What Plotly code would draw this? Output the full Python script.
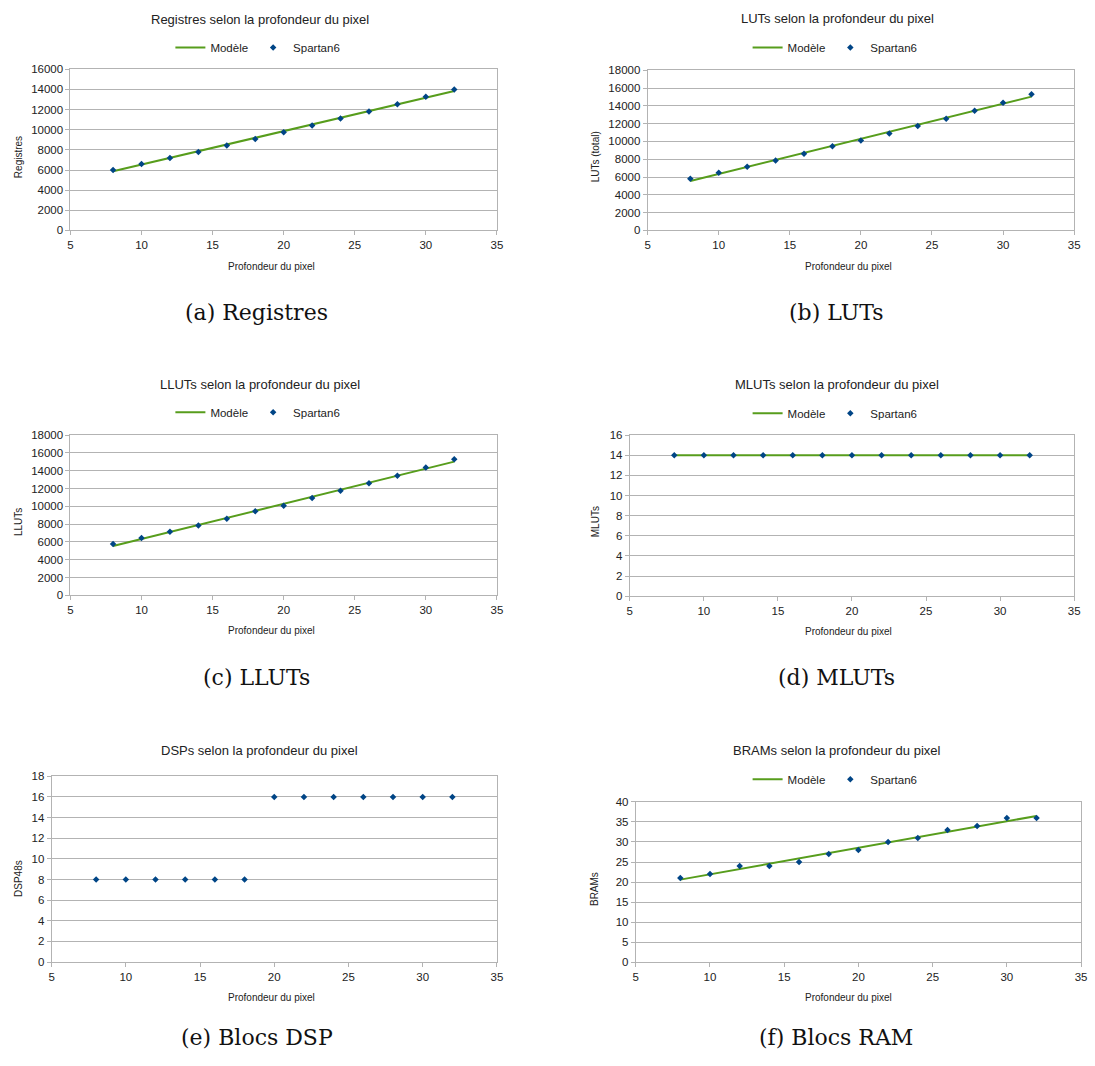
import plotly.graph_objects as go

W, H = 1095, 1066

depth = [8, 10, 12, 14, 16, 18, 20, 22, 24, 26, 28, 30, 32]
model_x = [8, 32]

reg_vals = [6000, 6590, 7180, 7800, 8430, 9080, 9740, 10430, 11110, 11800, 12520, 13280, 14000]
reg_model = [5880, 13840]

lut_vals = [5800, 6470, 7170, 7870, 8610, 9460, 10110, 10900, 11750, 12560, 13450, 14340, 15300]
lut_model = [5560, 15040]

llut_vals = [5760, 6440, 7150, 7850, 8590, 9440, 10070, 10930, 11740, 12590, 13440, 14370, 15300]
llut_model = [5540, 15020]

mlut_vals = [14, 14, 14, 14, 14, 14, 14, 14, 14, 14, 14, 14, 14]
mlut_model = [14, 14]

dsp_vals = [8, 8, 8, 8, 8, 8, 16, 16, 16, 16, 16, 16, 16]

bram_vals = [21, 22, 24, 24, 25, 27, 28, 30, 31, 33, 34, 36, 36]
bram_model = [20.6, 36.5]

titles = ["Registres selon la profondeur du pixel", "LUTs selon la profondeur du pixel",
          "LLUTs selon la profondeur du pixel", "MLUTs selon la profondeur du pixel",
          "DSPs selon la profondeur du pixel", "BRAMs selon la profondeur du pixel"]
ytitles = ["Registres", "LUTs (total)", "LLUTs", "MLUTs", "DSP48s", "BRAMs"]
xtitle = "Profondeur du pixel"
captions = ["(a) Registres", "(b) LUTs", "(c) LLUTs", "(d) MLUTs", "(e) Blocs DSP", "(f) Blocs RAM"]
y_ranges = [(16000, 2000), (18000, 2000), (18000, 2000), (16, 2), (18, 2), (40, 5)]
x_ticks = [5, 10, 15, 20, 25, 30, 35]

# layout geometry (pixels)
plots = [  # left, right, top, bottom
    (68, 498, 64, 227), (650, 1080, 65, 227),
    (68, 498, 434, 596), (632, 1080, 434, 597),
    (49, 498, 779, 967), (638, 1087, 805, 967),
]
title_pos = [(259, 14), (841, 13), (259, 383), (841, 383), (259, 753), (841, 753)]
legend_pos = [(257, 42), (839, 42), (257, 411), (839, 412), None, (839, 782)]
xtitle_pos = [(271, 263), (853, 263), (271, 632), (853, 633), (271, 1003), (853, 1003)]
ytitle_pos = [(15, 153), (597, 153), (15, 522), (597, 522), (15, 882), (597, 893)]
caption_pos = [(256, 310), (840, 310), (256, 679), (840, 679), (256, 1043), (840, 1043)]

GREEN = "#579d1c"
BLUE = "#004586"
GRID = "#b3b3b3"
TXT = "#222222"
FONT = "Liberation Sans"

series = [
    (reg_vals, reg_model), (lut_vals, lut_model), (llut_vals, llut_model),
    (mlut_vals, mlut_model), (dsp_vals, None), (bram_vals, bram_model),
]

fig = go.Figure()
legend_names = ["legend", "legend2", "legend3", "legend4", None, "legend5"]

for i, (vals, model) in enumerate(series):
    ax = "" if i == 0 else str(i + 1)
    lg = legend_names[i]
    if model is not None:
        fig.add_trace(go.Scatter(x=model_x, y=model, mode="lines", name="Modèle",
                                 line=dict(color=GREEN, width=2),
                                 xaxis="x" + ax, yaxis="y" + ax, legend=lg, showlegend=True))
    fig.add_trace(go.Scatter(x=depth, y=vals, mode="markers", name="Spartan6",
                             marker=dict(symbol="diamond", size=5, color=BLUE),
                             xaxis="x" + ax, yaxis="y" + ax,
                             legend=lg if lg else "legend", showlegend=lg is not None))

layout = dict(width=W, height=H, margin=dict(l=0, r=0, t=0, b=0),
              paper_bgcolor="white", plot_bgcolor="white",
              font=dict(family=FONT, size=11.5, color=TXT))
annotations = []
for i, (l, r, t, b) in enumerate(plots):
    ax = "" if i == 0 else str(i + 1)
    ymax, dt = y_ranges[i]
    axis_common = dict(gridcolor=GRID, gridwidth=1, showline=True, linecolor=GRID,
                       linewidth=1, mirror=True, ticks="outside", ticklen=4, tickcolor=GRID,
                       zeroline=False, tickfont=dict(family=FONT, size=11.5, color=TXT))
    layout["xaxis" + ax] = dict(domain=[l / W, r / W], range=[5, 35], tickvals=x_ticks,
                                anchor="y" + ax, showgrid=False, **axis_common)
    layout["yaxis" + ax] = dict(domain=[1 - b / H, 1 - t / H], range=[0, ymax], dtick=dt, tick0=0,
                                tickformat="d", anchor="x" + ax, showgrid=True, **axis_common)
    tx, ty = title_pos[i]
    annotations.append(dict(text=titles[i], x=tx / W, y=1 - ty / H, xref="paper", yref="paper",
                            xanchor="center", yanchor="middle", showarrow=False,
                            font=dict(family=FONT, size=13, color=TXT)))
    xx, xy = xtitle_pos[i]
    annotations.append(dict(text=xtitle, x=xx / W, y=1 - xy / H, xref="paper", yref="paper",
                            xanchor="center", yanchor="middle", showarrow=False,
                            font=dict(family=FONT, size=10, color=TXT)))
    yx, yy = ytitle_pos[i]
    annotations.append(dict(text=ytitles[i], x=yx / W, y=1 - yy / H, xref="paper", yref="paper",
                            xanchor="center", yanchor="middle", showarrow=False, textangle=-90,
                            font=dict(family=FONT, size=10, color=TXT)))
    cx, cy = caption_pos[i]
    annotations.append(dict(text=captions[i], x=cx / W, y=1 - cy / H, xref="paper", yref="paper",
                            xanchor="center", yanchor="middle", showarrow=False,
                            font=dict(family="DejaVu Serif", size=22, color="#111111")))
    lg = legend_names[i]
    if lg:
        lx, ly = legend_pos[i]
        layout[lg] = dict(orientation="h", x=lx / W, y=1 - ly / H, xanchor="center", yanchor="middle",
                          itemwidth=30, font=dict(family=FONT, size=11.5, color=TXT),
                          bgcolor="rgba(0,0,0,0)")
layout["annotations"] = annotations
fig.update_layout(**layout)
fig.write_html("out.html", config={"displayModeBar": False},
               post_script="document.body.style.margin='0';document.body.style.overflow='hidden';")
